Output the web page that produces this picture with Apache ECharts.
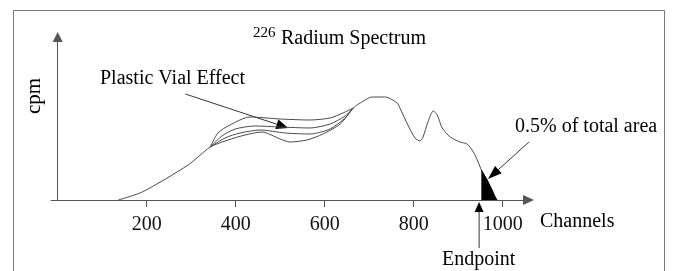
<!DOCTYPE html>
<html>
<head>
<meta charset="utf-8">
<script src="https://cdn.jsdelivr.net/npm/echarts@6/dist/echarts.min.js"></script>
<style>
  html, body { margin: 0; padding: 0; background: #fff; }
  #chart { width: 673px; height: 271px; }
</style>
</head>
<body>
<div id="chart"></div>
<script>
// channel ticks shown on the x axis
const tickValues = [200, 400, 600, 800, 1000]

// main spectrum (lowest branch in the vial region)
const mainX = [136, 190, 293, 343, 383, 421, 459, 500, 522, 560, 596, 635, 664, 680, 707, 736, 763, 769, 787, 803, 814, 821, 832, 844, 853, 864, 882, 904, 920, 934, 945, 952, 965, 976, 983, 987]
const mainY = [0, 8, 35, 53, 60, 65, 68, 61, 58, 60, 66, 76, 92, 97, 103, 103, 97, 92, 75, 62, 59, 63, 78, 89, 85, 72, 63, 58, 56, 48, 38, 30, 20, 10, 3, 0]

// plastic vial effect branches
const vialAX = [343, 360, 387, 432, 500, 567, 612, 641, 664]
const vialAY = [53, 67, 75, 83, 81, 80, 82, 87, 92]
const vialBX = [343, 369, 399, 444, 500, 567, 612, 646, 664]
const vialBY = [53, 64, 71, 74, 73, 72, 76, 84, 92]
const vialCX = [343, 376, 410, 455, 511, 567, 612, 646, 664]
const vialCY = [53, 62, 67, 70, 67, 66, 71, 82, 92]

// channel where the 0.5% tail starts
const endpoint = 952

// annotation arrows [from, tip] in data units
const vialArrow = [[287, 106], [518, 72]]
const tailArrow = [[1059, 58], [967, 21]]
const endArrow = [[947, -48], [947, -2]]

const zip = (xs, ys) => xs.map((x, i) => [x, ys[i]])
const mainData = zip(mainX, mainY)
const tailData = mainData.filter(p => p[0] >= endpoint)

const serif = '"Liberation Serif", "DejaVu Serif", serif'
const lineColor = '#4a4a4a'

const branch = data => ({
  type: 'line',
  data: data,
  smooth: 0.25,
  showSymbol: false,
  lineStyle: { color: lineColor, width: 1 }
})

const label = (id, x, y, text, size) => ({
  type: 'text',
  id: id,
  x: x,
  y: y,
  style: { text: text, font: size + 'px ' + serif, fill: '#000', align: 'left', verticalAlign: 'middle' }
})

const chart = echarts.init(document.getElementById('chart'))
chart.setOption({
  animation: false,
  grid: { left: 51, right: 144.5, top: 37, bottom: 71 },
  xAxis: {
    type: 'value',
    min: -15,
    max: 1058,
    splitLine: { show: false },
    axisLine: {
      lineStyle: { color: '#555', width: 1 },
      symbol: ['none', 'triangle'],
      symbolSize: [10, 11]
    },
    axisTick: { customValues: tickValues, length: 7, lineStyle: { color: '#555' } },
    axisLabel: {
      customValues: tickValues,
      margin: 15,
      formatter: v => String(v),
      fontFamily: serif,
      fontSize: 20,
      color: '#111'
    }
  },
  yAxis: {
    type: 'value',
    min: 0,
    max: 163,
    splitLine: { show: false },
    axisLine: {
      show: true,
      lineStyle: { color: '#555', width: 1 },
      symbol: ['none', 'triangle'],
      symbolSize: [10, 10]
    },
    axisTick: { show: false },
    axisLabel: { show: false }
  },
  series: [
    branch(mainData),
    branch(zip(vialAX, vialAY)),
    branch(zip(vialBX, vialBY)),
    branch(zip(vialCX, vialCY)),
    {
      type: 'line',
      data: tailData,
      showSymbol: false,
      lineStyle: { color: '#000', width: 1 },
      areaStyle: { color: '#000', opacity: 1 }
    }
  ],
  graphic: [
    { type: 'rect', id: 'frame', z: -1, shape: { x: 13.5, y: 10.5, width: 651, height: 300 }, style: { fill: 'none', stroke: '#777', lineWidth: 1 } },
    label('sup', 253, 33.5, '226', 15),
    label('title', 281, 38.5, 'Radium Spectrum', 20),
    label('vial', 100, 78.5, 'Plastic Vial Effect', 20),
    label('tail', 515, 127, '0.5% of total area', 20),
    label('chan', 540, 222, 'Channels', 20),
    label('endp', 442, 260, 'Endpoint', 20),
    { type: 'text', id: 'cpm', x: 34, y: 96, rotation: Math.PI / 2, style: { text: 'cpm', font: '21px ' + serif, fill: '#000', align: 'center', verticalAlign: 'middle' } }
  ]
})

// arrows: positions come from the grid's own scales
function arrow (id, a, len, wid) {
  const p0 = chart.convertToPixel({ gridIndex: 0 }, a[0])
  const p1 = chart.convertToPixel({ gridIndex: 0 }, a[1])
  const dx = p1[0] - p0[0]
  const dy = p1[1] - p0[1]
  const d = Math.sqrt(dx * dx + dy * dy)
  const ux = dx / d
  const uy = dy / d
  const bx = p1[0] - ux * len
  const by = p1[1] - uy * len
  return [
    { type: 'line', id: id + 'L', shape: { x1: p0[0], y1: p0[1], x2: bx, y2: by }, style: { stroke: '#333', lineWidth: 1 } },
    {
      type: 'polygon',
      id: id + 'H',
      shape: { points: [p1, [bx - uy * wid / 2, by + ux * wid / 2], [bx + uy * wid / 2, by - ux * wid / 2]] },
      style: { fill: '#000' }
    }
  ]
}

chart.setOption({
  graphic: [].concat(
    arrow('va', vialArrow, 12, 10),
    arrow('ta', tailArrow, 14, 10),
    arrow('ea', endArrow, 10, 9)
  )
})
</script>
</body>
</html>
